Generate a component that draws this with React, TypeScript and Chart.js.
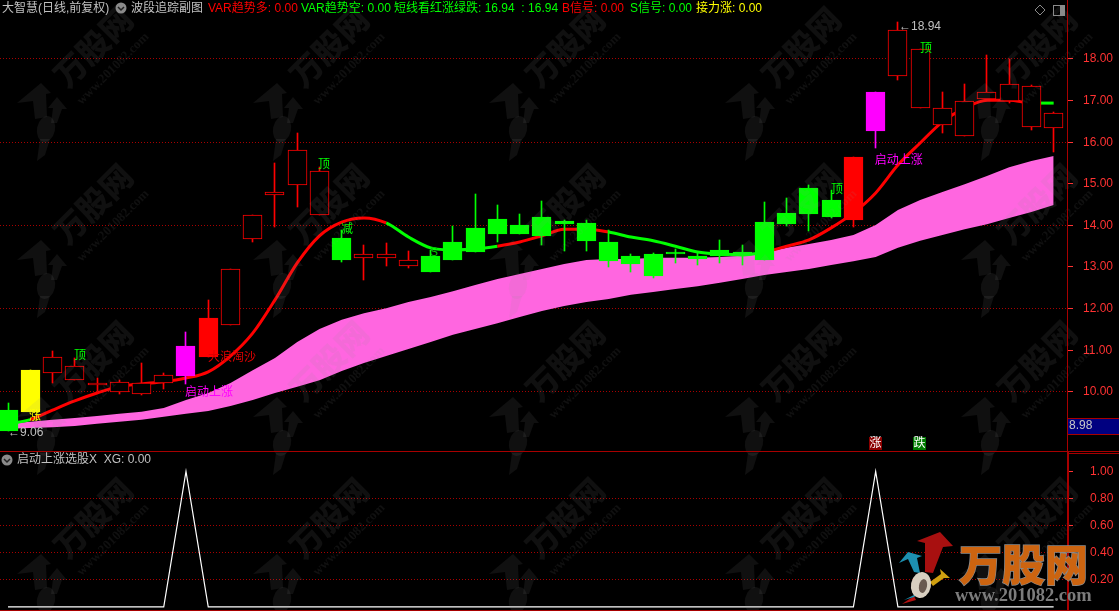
import React, { useEffect, useRef } from "react";
import { Chart, registerables } from "chart.js";

Chart.register(...registerables);

const sessions = Array.from({ length: 48 }, (_, i) => i);
const opens = [9.56, 9.51, 10.46, 10.28, 10.16, 9.99, 9.95, 10.21, 10.38, 10.84, 11.6, 13.67, 14.73, 14.97, 14.25, 13.7, 13.22, 13.22, 13.02, 13.27, 13.6, 13.94, 14.15, 14.01, 14.2, 14.11, 14.06, 13.6, 13.27, 13.31, 13.36, 13.27, 13.41, 13.36, 14.08, 14.3, 14.9, 14.61, 14.13, 16.27, 17.59, 16.82, 16.42, 16.15, 17.04, 16.99, 16.37, 16.34];
const closes = [9.06, 10.52, 10.84, 10.62, 10.22, 10.23, 10.21, 10.4, 11.1, 11.77, 12.95, 14.25, 14.8, 15.81, 15.31, 13.17, 13.31, 13.31, 13.17, 12.88, 13.17, 13.36, 13.79, 13.79, 13.75, 14.03, 13.63, 13.14, 13.07, 12.78, 13.31, 13.19, 13.27, 13.29, 13.17, 14.03, 14.27, 14.2, 15.64, 17.21, 18.7, 18.24, 16.82, 16.99, 17.21, 17.4, 17.35, 16.7];
const highs = [9.73, 10.52, 10.98, 10.81, 10.33, 10.28, 10.69, 10.45, 11.44, 12.21, 12.95, 14.25, 15.5, 16.22, 15.4, 13.89, 13.53, 13.58, 13.39, 13.41, 13.99, 14.75, 14.49, 14.27, 14.59, 14.13, 14.13, 13.89, 13.31, 13.34, 13.43, 13.34, 13.65, 13.53, 14.56, 14.66, 14.97, 14.85, 15.64, 17.21, 18.9, 18.24, 17.21, 17.4, 18.1, 18.0, 17.37, 16.73];
const lows = [9.06, 9.51, 10.21, 10.28, 10.02, 9.95, 9.92, 10.07, 10.19, 10.84, 11.6, 13.6, 13.96, 14.44, 14.25, 13.12, 12.69, 13.02, 12.98, 12.88, 13.17, 13.36, 13.6, 13.79, 13.53, 13.39, 13.39, 13.0, 12.88, 12.74, 13.1, 13.05, 13.1, 13.05, 13.17, 13.99, 13.87, 14.18, 13.96, 15.86, 17.5, 16.82, 16.22, 16.15, 16.99, 16.94, 16.29, 15.76];
const candleKinds = ["g", "y", "u", "u", "u", "u", "u", "u", "M", "R", "u", "u", "u", "u", "u", "g", "u", "u", "u", "g", "g", "g", "g", "g", "g", "g", "g", "g", "g", "g", "g", "g", "g", "g", "g", "g", "g", "g", "R", "M", "u", "u", "u", "u", "u", "u", "u", "u"];
const trend = [9.23, 9.33, 9.56, 9.78, 9.97, 10.13, 10.19, 10.24, 10.33, 10.48, 10.86, 11.41, 12.21, 13.1, 13.75, 14.08, 14.18, 14.06, 13.72, 13.46, 13.41, 13.43, 13.5, 13.6, 13.75, 13.91, 13.91, 13.84, 13.72, 13.63, 13.5, 13.36, 13.31, 13.29, 13.36, 13.5, 13.65, 13.94, 14.3, 14.78, 15.45, 15.98, 16.49, 16.82, 17.01, 17.01, 16.94, 16.94];
const trendSides = "grrrrrrrrrrrrrrrrgggggrrrrrgggggggrrrrrrrrrrrrg".split("");
const bandTop = [9.23, 9.28, 9.33, 9.37, 9.42, 9.47, 9.52, 9.61, 9.8, 9.97, 10.21, 10.52, 10.81, 11.2, 11.51, 11.73, 11.89, 12.01, 12.16, 12.28, 12.42, 12.57, 12.71, 12.83, 12.95, 13.07, 13.17, 13.19, 13.19, 13.22, 13.22, 13.22, 13.24, 13.27, 13.34, 13.46, 13.55, 13.65, 13.77, 14.01, 14.37, 14.61, 14.8, 14.99, 15.19, 15.4, 15.55, 15.67];
const bandBottom = [9.11, 9.13, 9.15, 9.18, 9.23, 9.28, 9.33, 9.4, 9.47, 9.54, 9.66, 9.8, 9.97, 10.12, 10.28, 10.5, 10.69, 10.86, 11.03, 11.2, 11.37, 11.51, 11.65, 11.8, 11.94, 12.06, 12.16, 12.23, 12.33, 12.4, 12.47, 12.54, 12.62, 12.71, 12.81, 12.88, 12.95, 13.05, 13.14, 13.24, 13.46, 13.63, 13.77, 13.91, 14.03, 14.18, 14.32, 14.49];
const xgValues = sessions.map((i) => (i === 8 || i === 39 ? 1 : 0));

const mainTicks = [10, 11, 12, 13, 14, 15, 16, 17, 18];
const mainGridTicks = [10, 12, 14, 16, 18];
const subTicks = [0.2, 0.4, 0.6, 0.8, 1.0];
const subGridTicks = [0.2, 0.4, 0.6, 0.8];

const signalTexts = ["顶", "顶", "顶", "顶", "减", "S", "涨", "启动上涨", "启动上涨", "大浪淘沙"];
const signalIndex = [3.24, 14.2, 37.26, 41.26, 15.24, 19.15, 1.21, 9.03, 40.04, 10.07];
const signalPrice = [10.86, 15.45, 14.87, 18.24, 13.89, 13.34, 9.39, 9.99, 15.55, 10.81];
const signalColors = ["#00ff00", "#00ff00", "#00ff00", "#00ff00", "#00ff00", "#00c800", "#ffff00", "#ff00ff", "#ff00ff", "#e00000"];

const headerTexts = ["大智慧(日线,前复权)", "波段追踪副图", "VAR趋势多: 0.00", "VAR趋势空: 0.00", "短线看红涨绿跌: 16.94  : 16.94", "B信号: 0.00", "S信号: 0.00", "接力涨: 0.00"];
const headerColors = ["#c0c0c0", "#c0c0c0", "#ff0000", "#00ff00", "#00ff00", "#ff0000", "#00ff00", "#ffff00"];
const headerLeft = [2, 131, 208, 301, 394, 562, 630, 696];

const FONT = '"Liberation Sans","Noto Sans CJK SC",sans-serif';
const RED = "#ff0000";
const GREEN = "#00ff00";
const AXIS_RED = "#a80000";
const TICK_RED = "#ff3232";

function bodyColor(kind: string) {
  if (kind === "g") return GREEN;
  if (kind === "y") return "#ffff00";
  if (kind === "M") return "#ff00ff";
  if (kind === "R") return RED;
  return "#000000";
}
function lineColor(kind: string) {
  if (kind === "g") return GREEN;
  if (kind === "y") return "#ffff00";
  if (kind === "M") return "#ff00ff";
  return RED;
}

function poly(ctx: CanvasRenderingContext2D, pts: number[][], fill: string) {
  ctx.fillStyle = fill;
  ctx.beginPath();
  pts.forEach((p, i) => (i ? ctx.lineTo(p[0], p[1]) : ctx.moveTo(p[0], p[1])));
  ctx.closePath();
  ctx.fill();
}

function drawWatermark(ctx: CanvasRenderingContext2D, w: number, h: number) {
  const shade = "rgba(150,150,150,0.11)";
  for (let cy = 123; cy < h + 60; cy += 157) {
    for (let cx = 43; cx < w; cx += 236) {
      ctx.save();
      ctx.translate(cx, cy);
      poly(ctx, [[-2, -40], [8, -30], [3, -29], [4, -6], [-8, -4], [-10, -22], [-26, -20]], shade);
      poly(ctx, [[14, -26], [24, -14], [19, -14], [14, 0], [8, 0], [10, -15], [5, -15]], shade);
      ctx.fillStyle = shade;
      ctx.beginPath();
      ctx.ellipse(3, 6, 9, 13, 0.2, 0, Math.PI * 2);
      ctx.fill();
      poly(ctx, [[-3, 16], [7, 16], [2, 32], [-6, 38]], shade);
      ctx.save();
      ctx.translate(50, -76);
      ctx.rotate(-Math.PI / 4);
      ctx.fillStyle = shade;
      ctx.textAlign = "center";
      ctx.textBaseline = "middle";
      ctx.font = '900 32px "Noto Sans CJK SC"';
      ctx.fillText("万股网", 0, 0);
      ctx.restore();
      ctx.save();
      ctx.translate(70, -54);
      ctx.rotate(-Math.PI / 4);
      ctx.fillStyle = shade;
      ctx.textAlign = "center";
      ctx.textBaseline = "middle";
      ctx.font = 'bold 13px "Liberation Serif"';
      ctx.fillText("www.201082.com", 0, 0);
      ctx.restore();
      ctx.restore();
    }
  }
}

function drawLogo(ctx: CanvasRenderingContext2D) {
  poly(ctx, [[940, 532], [953, 546], [943, 547], [933, 573], [925, 572], [925, 543], [917, 541]], "#a81010");
  poly(ctx, [[908, 552], [922, 556], [917, 558], [920, 573], [914, 572], [908, 559], [899, 563]], "#1d8fb0");
  poly(ctx, [[950, 578], [940, 569], [941, 574], [930, 582], [933, 586], [944, 578]], "#d0a010");
  poly(ctx, [[902, 604], [914, 596], [916, 600]], "#b01010");
  poly(ctx, [[914, 597], [904, 600], [920, 592]], "#1d8fb0");
  ctx.fillStyle = "#d8cfc0";
  ctx.beginPath();
  ctx.ellipse(921, 585, 10, 13, 0.2, 0, Math.PI * 2);
  ctx.fill();
  ctx.fillStyle = "#6a5a50";
  ctx.beginPath();
  ctx.ellipse(923, 586, 4, 7, 0.2, 0, Math.PI * 2);
  ctx.fill();
  ctx.textAlign = "left";
  ctx.textBaseline = "middle";
  ctx.font = '900 43px "Noto Sans CJK SC"';
  ctx.lineWidth = 1.5;
  ctx.strokeStyle = "#8a8a8a";
  ctx.strokeText("万股网", 959, 565);
  ctx.fillStyle = "#cc6410";
  ctx.fillText("万股网", 959, 565);
  ctx.font = 'bold 18.5px "Liberation Serif"';
  ctx.fillStyle = "#7c7c7c";
  ctx.fillText("www.201082.com", 955, 596);
}

const paneChrome = {
  id: "paneChrome",
  beforeDraw(chart: any) {
    const { ctx, width, height } = chart;
    ctx.save();
    ctx.fillStyle = "#000000";
    ctx.fillRect(0, 0, width, height);
    ctx.restore();
  },
  beforeDatasetDraw(chart: any, args: any) {
    if (args.meta.type !== "bar") return;
    args.meta.data.forEach((el: any) => {
      el.x = Math.floor(el.x) + 0.5;
      el.y = Math.round(el.y);
      el.base = Math.round(el.base);
    });
  },
  afterDatasetsDraw(chart: any) {
    const { ctx, width, height, scales } = chart;
    ctx.save();
    drawWatermark(ctx, width, height);

    ctx.font = `12px ${FONT}`;
    ctx.textBaseline = "middle";
    ctx.textAlign = "center";
    signalTexts.forEach((text, i) => {
      ctx.fillStyle = signalColors[i];
      ctx.fillText(text, scales.x.getPixelForValue(signalIndex[i]), scales.yMain.getPixelForValue(signalPrice[i]));
    });

    ctx.textAlign = "left";
    ctx.fillStyle = "#c0c0c0";
    ctx.fillText("←9.06", 8, scales.yMain.getPixelForValue(9.06) + 2);
    ctx.fillText("←18.94", 899, scales.yMain.getPixelForValue(18.78));

    headerTexts.forEach((text, i) => {
      ctx.fillStyle = headerColors[i];
      ctx.fillText(text, headerLeft[i], 9);
    });
    const chevron = (x: number, y: number) => {
      ctx.fillStyle = "#8a8a8a";
      ctx.beginPath();
      ctx.arc(x, y, 5.5, 0, Math.PI * 2);
      ctx.fill();
      ctx.strokeStyle = "#222222";
      ctx.lineWidth = 1.5;
      ctx.beginPath();
      ctx.moveTo(x - 3, y - 1);
      ctx.lineTo(x, y + 2);
      ctx.lineTo(x + 3, y - 1);
      ctx.stroke();
    };
    chevron(121, 8);
    chevron(7, 460);
    ctx.fillStyle = "#c0c0c0";
    ctx.fillText("启动上涨选股X  XG: 0.00", 17, 460);

    ctx.strokeStyle = "#8a8a8a";
    ctx.lineWidth = 1;
    ctx.beginPath();
    ctx.moveTo(1040, 5);
    ctx.lineTo(1045, 10);
    ctx.lineTo(1040, 15);
    ctx.lineTo(1035, 10);
    ctx.closePath();
    ctx.stroke();
    ctx.strokeRect(1053.5, 5.5, 11, 10);
    ctx.fillStyle = "#8a8a8a";
    ctx.fillRect(1060, 5, 5, 11);

    ctx.fillStyle = "#8c0000";
    ctx.fillRect(869, 437, 13, 13);
    ctx.fillStyle = "#007a00";
    ctx.fillRect(913, 437, 13, 13);
    ctx.fillStyle = "#ffffff";
    ctx.textAlign = "center";
    ctx.fillText("涨", 875.5, 444);
    ctx.fillText("跌", 919.5, 444);

    ctx.fillStyle = "#000080";
    ctx.fillRect(1068, 418, 51, 16);
    ctx.fillStyle = "#c8c8c8";
    ctx.textAlign = "left";
    ctx.fillText("8.98", 1069, 426);

    ctx.fillStyle = AXIS_RED;
    ctx.fillRect(1067, 0, 1, height);
    ctx.fillRect(0, 451, width, 1);
    ctx.fillRect(1068, 418, 51, 1);
    ctx.fillRect(1068, 434, 51, 1);
    ctx.fillRect(1068, 453, 51, 1);
    ctx.fillRect(0, 610, width, 1);
    ctx.fillRect(1068, 452, 1, 159);

    drawLogo(ctx);
    ctx.restore();
  },
};

function points(values: number[]) {
  return values.map((y, x) => ({ x, y }));
}
function ranges(a: number[], b: number[]) {
  return a.map((v, x) => ({ x, y: [Math.min(v, b[x]), Math.max(v, b[x])] }));
}

function yAxis(min: number, max: number, weight: number, stackWeight: number, tickList: number[], gridList: number[], padding: number) {
  return {
    type: "linear",
    position: "right",
    stack: "panes",
    stackWeight,
    weight,
    min,
    max,
    afterBuildTicks(scale: any) {
      scale.ticks = tickList.map((value) => ({ value }));
    },
    afterFit(scale: any) {
      scale.width = 52;
      scale.paddingTop = 0;
      scale.paddingBottom = 0;
    },
    border: { display: false, dash: [1, 2] },
    grid: {
      lineWidth: 1,
      tickLength: 6,
      tickColor: TICK_RED,
      tickBorderDash: [],
      color: (c: any) => (gridList.includes(Math.round(c.tick.value * 10) / 10) ? "#a80000" : "rgba(0,0,0,0)"),
    },
    ticks: {
      color: TICK_RED,
      padding,
      font: { family: FONT, size: 12 },
      autoSkip: false,
      maxRotation: 0,
      callback: (v: any) => Number(v).toFixed(2),
    },
  };
}

export default function App() {
  const ref = useRef<HTMLCanvasElement>(null);
  useEffect(() => {
    const chart = new Chart(ref.current as HTMLCanvasElement, {
      type: "bar",
      plugins: [paneChrome],
      data: {
        datasets: [
          { type: "line", label: "band top", data: points(bandTop), yAxisID: "yMain", borderWidth: 0, pointRadius: 0, backgroundColor: "#ff66e0", fill: "+1", order: 6 },
          { type: "line", label: "band bottom", data: points(bandBottom), yAxisID: "yMain", borderWidth: 0, pointRadius: 0, fill: false, order: 7 },
          {
            type: "line",
            label: "短线看红涨绿跌",
            data: points(trend),
            yAxisID: "yMain",
            borderWidth: 3,
            borderColor: RED,
            borderJoinStyle: "round",
            cubicInterpolationMode: "monotone",
            pointRadius: 0,
            fill: false,
            order: 5,
            segment: { borderColor: (c: any) => (trendSides[c.p0DataIndex] === "g" ? GREEN : RED) },
          },
          {
            label: "wick",
            data: ranges(lows, highs),
            yAxisID: "yMain",
            grouped: false,
            barThickness: 1,
            borderWidth: 0,
            backgroundColor: candleKinds.map(lineColor),
            order: 4,
          },
          {
            label: "body",
            data: ranges(opens, closes),
            yAxisID: "yMain",
            grouped: false,
            barThickness: 19,
            borderWidth: 1,
            borderSkipped: false,
            backgroundColor: candleKinds.map(bodyColor),
            borderColor: candleKinds.map(lineColor),
            order: 3,
          },
          { type: "line", label: "XG", data: points(xgValues), yAxisID: "ySub", borderColor: "#ffffff", borderWidth: 1.2, pointRadius: 0, fill: false, order: 1 },
        ],
      } as any,
      options: {
        responsive: false,
        animation: false,
        events: [],
        layout: { padding: 0 },
        plugins: { legend: { display: false }, tooltip: { enabled: false } },
        scales: {
          x: { type: "linear", display: false, offset: false, min: -0.36, max: 47.6, grid: { display: false, offset: false } },
          yMain: yAxis(8.577, 19.418, 1, 451, mainTicks, mainGridTicks, 10),
          ySub: yAxis(-0.03, 1.15, 2, 160, subTicks, subGridTicks, 17),
        },
      } as any,
    });
    return () => chart.destroy();
  }, []);
  return (
    <div style={{ position: "fixed", left: 0, top: 0, width: 1119, height: 611, background: "#000" }}>
      <canvas ref={ref} width={1119} height={611} style={{ display: "block" }} />
    </div>
  );
}
